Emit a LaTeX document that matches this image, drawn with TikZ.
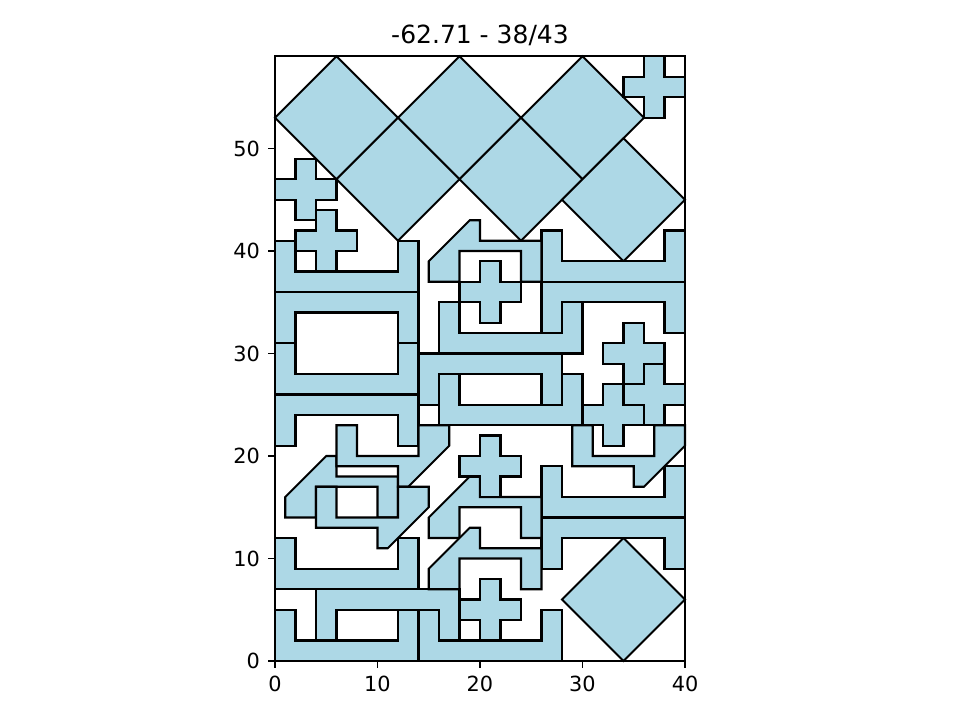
\documentclass[tikz,border=0pt]{standalone}
\usepackage{fontspec}
\setmainfont{DejaVu Sans}
\definecolor{lb}{RGB}{173,216,230}
\tikzset{
  piece/.style={fill=lb,draw=black,line width=1bp,line join=miter},
  ticklab/.style={inner sep=0pt,font=\fontsize{10bp}{12bp}\selectfont},
  puup/.pic={\path[piece] (0,0)--(14,0)--(14,5)--(12,5)--(12,2)--(2,2)--(2,5)--(0,5)--cycle;},
  pudown/.pic={\path[piece] (0,0)--(0,5)--(14,5)--(14,0)--(12,0)--(12,3)--(2,3)--(2,0)--cycle;},
  phookn/.pic={\path[piece] (0,0)--(0,2)--(4,6)--(5,6)--(5,4)--(11,4)--(11,0)--(9,0)--(9,3)--(3,3)--(3,0)--cycle;},
  phookr/.pic={\path[piece] (0,0)--(0,-2)--(-4,-6)--(-5,-6)--(-5,-4)--(-11,-4)--(-11,0)--(-9,0)--(-9,-3)--(-3,-3)--(-3,0)--cycle;},
  pcross/.pic={\path[piece] (-1,-3)--(1,-3)--(1,-1)--(3,-1)--(3,1)--(1,1)--(1,3)--(-1,3)--(-1,1)--(-3,1)--(-3,-1)--(-1,-1)--cycle;},
  pdiam/.pic={\path[piece] (-6,0)--(0,6)--(6,0)--(0,-6)--cycle;}
}
\begin{document}
\begin{tikzpicture}[x=4.92bp,y=4.92bp]
\useasboundingbox (-26.8293,-5.7561) rectangle (66.8293,64.4878);
% diamonds
\foreach \p in {(6,53),(18,53),(30,53),(12,47),(24,47),(34,45),(34,6)}
  \pic at \p {pdiam};
% U shapes opening up
\foreach \p in {(0,36),(0,26),(26,37),(16,30),(16,23),(26,14),(0,7),(0,0),(14,0)}
  \pic at \p {puup};
% U shapes opening down
\foreach \p in {(0,31),(0,21),(26,32),(14,25),(26,9),(4,2)}
  \pic at \p {pudown};
% hooks
\foreach \p in {(15,37),(15,12),(15,7),(1,14)}
  \pic at \p {phookn};
\foreach \p in {(17,23),(15,17),(40,23)}
  \pic at \p {phookr};
% crosses
\foreach \p in {(37,56),(3,46),(5,41),(21,36),(35,30),(37,26),(33,24),(21,19),(21,5)}
  \pic at \p {pcross};
% axes
\draw[line width=0.8bp] (0,0) rectangle (40,59);
\foreach \v in {0,10,20,30,40}{
  \draw[line width=0.8bp] (\v,0) -- (\v,-0.7114);
  \node[ticklab,anchor=north] (xl\v) at (\v,-1.4228) {\v};
}
\foreach \v in {0,10,20,30,40,50}{
  \draw[line width=0.8bp] (0,\v) -- (-0.7114,\v);
  \node[ticklab,anchor=east] (yl\v) at (-1.4228,\v) {\v};
}
\node[inner sep=0pt,anchor=base,font=\fontsize{12bp}{14bp}\selectfont] (title) at (20,60.22) {-62.71 - 38/43};
\end{tikzpicture}
\end{document}
